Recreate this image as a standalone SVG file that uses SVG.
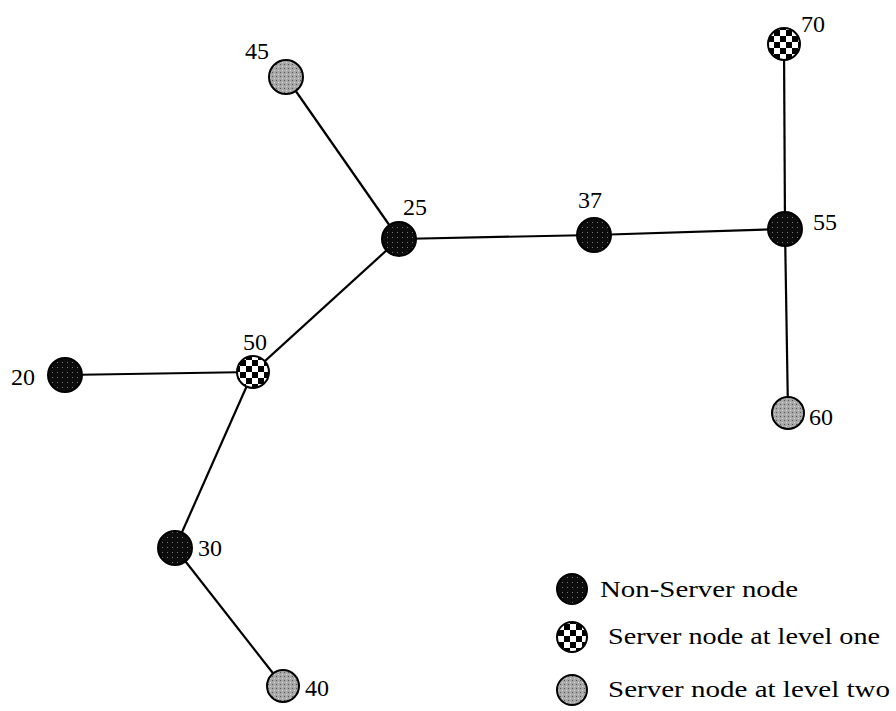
<svg xmlns="http://www.w3.org/2000/svg" width="896" height="711" viewBox="0 0 896 711">
  <style>
    .edge { stroke: #000; stroke-width: 2.2; fill: none; }
    .node { stroke: #000; stroke-width: 2; }
    .plain { fill: url(#dots); }
    .lvl1 { fill: url(#checker); }
    .lvl2 { fill: url(#grain); }
    text { fill: #000; }
  </style>
  <defs>
    <!-- dark, finely dotted fill for ordinary nodes -->
    <pattern id="dots" patternUnits="userSpaceOnUse" width="5" height="5">
      <rect width="5" height="5" fill="#0d0d0d"/>
      <rect x="2" y="2" width="1" height="1" fill="#777"/>
    </pattern>
    <!-- black/white checkerboard for level-one servers -->
    <pattern id="checker" patternUnits="userSpaceOnUse" width="12" height="12">
      <rect width="12" height="12" fill="#fff"/>
      <rect width="6" height="6" fill="#000"/>
      <rect x="6" y="6" width="6" height="6" fill="#000"/>
    </pattern>
    <!-- grey grainy fill for level-two servers -->
    <pattern id="grain" patternUnits="userSpaceOnUse" width="4" height="4">
      <rect width="4" height="4" fill="#a8a8a8"/>
      <rect x="0" y="0" width="1" height="1" fill="#555"/>
      <rect x="2" y="2" width="1" height="1" fill="#dcdcdc"/>
    </pattern>
  </defs>

  <rect width="896" height="711" fill="#fff"/>

  <g id="connectors">
    <line class="edge" x1="286" y1="77" x2="399" y2="239"/>
    <line class="edge" x1="399" y1="239" x2="594" y2="235"/>
    <line class="edge" x1="594" y1="235" x2="785" y2="229"/>
    <line class="edge" x1="784" y1="44" x2="785" y2="229"/>
    <line class="edge" x1="785" y1="229" x2="788" y2="413"/>
    <line class="edge" x1="399" y1="239" x2="253" y2="372"/>
    <line class="edge" x1="253" y1="372" x2="65" y2="375"/>
    <line class="edge" x1="253" y1="372" x2="175" y2="548"/>
    <line class="edge" x1="175" y1="548" x2="283" y2="686"/>
  </g>

  <g font-family="'Liberation Serif', 'DejaVu Serif', serif" font-size="24">
    <g id="n45"><circle class="node lvl2" cx="286" cy="77" r="17"/><text x="245" y="59">45</text></g>
    <g id="n25"><circle class="node plain" cx="399" cy="239" r="17"/><text x="403" y="215">25</text></g>
    <g id="n37"><circle class="node plain" cx="594" cy="235" r="17"/><text x="578" y="208">37</text></g>
    <g id="n55"><circle class="node plain" cx="785" cy="229" r="17"/><text x="813" y="230">55</text></g>
    <g id="n70"><circle class="node lvl1" cx="784" cy="44" r="16"/><text x="801" y="32">70</text></g>
    <g id="n60"><circle class="node lvl2" cx="788" cy="413" r="16"/><text x="809" y="425">60</text></g>
    <g id="n50"><circle class="node lvl1" cx="253" cy="372" r="16"/><text x="243" y="350">50</text></g>
    <g id="n20"><circle class="node plain" cx="65" cy="375" r="17"/><text x="11" y="385">20</text></g>
    <g id="n30"><circle class="node plain" cx="175" cy="548" r="17"/><text x="198" y="556">30</text></g>
    <g id="n40"><circle class="node lvl2" cx="283" cy="686" r="16"/><text x="305" y="696">40</text></g>

    <g id="legend">
      <circle class="node plain" cx="572" cy="589" r="15"/>
      <text x="600" y="597" textLength="198" lengthAdjust="spacingAndGlyphs">Non-Server node</text>
      <circle class="node lvl1" cx="572" cy="637" r="15"/>
      <text x="608" y="644" textLength="272" lengthAdjust="spacingAndGlyphs">Server node at level one</text>
      <circle class="node lvl2" cx="572" cy="690" r="15"/>
      <text x="608" y="697" textLength="282" lengthAdjust="spacingAndGlyphs">Server node at level two</text>
    </g>
  </g>
</svg>
